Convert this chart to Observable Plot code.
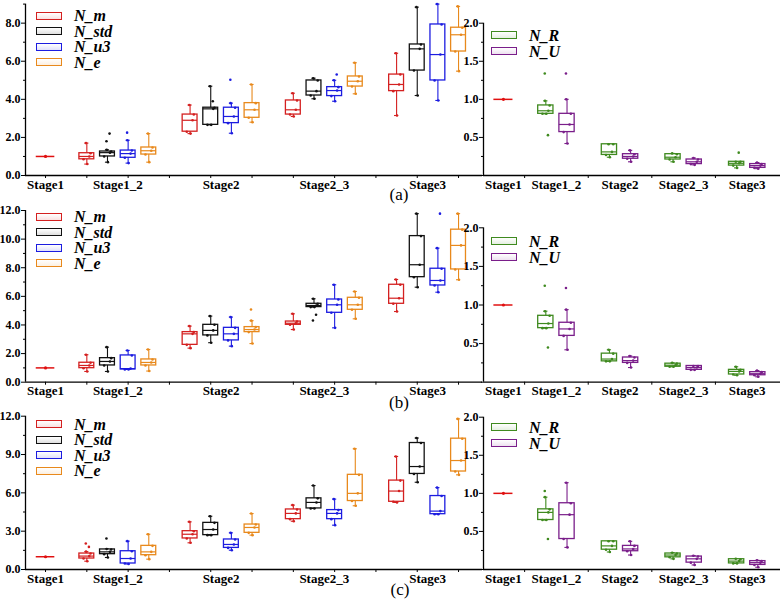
<!DOCTYPE html>
<html>
<head>
<meta charset="utf-8">
<script src="https://cdn.jsdelivr.net/npm/d3@7"></script>
<script src="https://cdn.jsdelivr.net/npm/@observablehq/plot@0.6"></script>
<style>
  body { margin: 0; background: #fff; }
  #wrap { position: relative; width: 780px; height: 601px; overflow: hidden; background: #fff; }
  #wrap svg { position: absolute; }
  #wrap svg, #wrap svg text { font-family: "Liberation Serif", "Times New Roman", serif !important; font-weight: bold; }
  .lg { position: absolute; font-family: "Liberation Serif", serif; font-style: italic; font-weight: bold; font-size: 16px; line-height: 15px; height: 15px; color: #000; white-space: nowrap; }
  .lb { position: absolute; width: 24px; height: 6px; background: #fff; }
  .pl { position: absolute; font-family: "Liberation Serif", serif; font-size: 17px; line-height: 17px; transform: translate(-50%, -50%); }
</style>
</head>
<body>
<div id="wrap"></div>
<script>
// ---------- categories ----------
const stages = ["Stage1", "Stage1_2", "Stage2", "Stage2_3", "Stage3"];
const leftSeries = ["N_m", "N_std", "N_u3", "N_e"];
const rightSeries = ["N_R", "N_U"];
const leftColors = ["#d42020", "#111111", "#1c1ce0", "#e8891c"];
const rightColors = ["#3f8a1f", "#7a1e8a"];
const stage1Color = "#e01010";
const stage1Value = 1.0;

// ---------- box statistics [min, q1, median, q3, max] for Stage1_2, Stage2, Stage2_3, Stage3 ----------
// panel (a)
const a_N_m   = [[0.60,0.85,1.00,1.17,1.70],[2.20,2.30,2.90,3.20,3.70],[3.10,3.20,3.45,3.94,4.32],[3.15,4.43,4.78,5.30,6.42]];
const a_N_std = [[0.70,1.00,1.20,1.26,1.35],[2.66,2.66,3.50,3.56,4.69],[4.03,4.20,4.43,4.99,5.11],[4.20,5.51,6.65,6.88,8.84]];
const a_N_u3  = [[0.65,0.93,1.15,1.31,1.85],[2.22,2.75,3.10,3.56,3.80],[3.90,4.17,4.46,4.64,5.00],[3.94,4.99,6.35,7.93,9.00]];
const a_N_e   = [[0.70,1.10,1.30,1.47,2.20],[2.80,3.03,3.45,3.80,4.78],[4.29,4.67,4.95,5.20,5.92],[5.48,6.51,7.39,7.76,8.88]];
const a_N_R   = [[0.81,0.81,0.85,0.92,0.98],[0.24,0.27,0.31,0.41,0.41],[0.18,0.21,0.24,0.28,0.29],[0.10,0.13,0.16,0.18,0.18]];
const a_N_U   = [[0.42,0.57,0.67,0.81,1.00],[0.18,0.22,0.25,0.28,0.33],[0.14,0.15,0.18,0.21,0.23],[0.09,0.10,0.13,0.15,0.17]];
const a_left_out  = [["N_std",1,1.80],["N_std",1,2.20],["N_u3",1,2.25],["N_std",2,3.90],["N_u3",2,5.03],["N_u3",3,5.30]];
const a_right_out = [["N_R",1,1.34],["N_R",1,0.53],["N_U",1,1.34],["N_R",4,0.30]];

// panel (b)
const b_N_m   = [[0.75,0.98,1.17,1.36,1.92],[2.38,2.61,3.38,3.50,3.92],[3.68,4.01,4.12,4.24,4.78],[4.94,5.48,5.87,6.81,7.18]];
const b_N_std = [[0.75,1.17,1.45,1.68,2.45],[2.76,3.27,3.62,4.01,4.62],[5.25,5.25,5.36,5.48,5.83],[6.64,7.34,8.21,10.21,11.78]];
const b_N_u3  = [[0.89,0.89,0.95,1.87,2.22],[2.52,2.92,3.38,3.80,4.55],[3.80,4.85,5.41,5.78,6.81],[6.29,6.76,7.11,7.93,9.37]];
const b_N_e   = [[0.78,1.17,1.38,1.59,2.29],[2.70,3.50,3.68,3.85,4.30],[4.43,5.06,5.41,5.90,6.34],[7.16,7.88,9.56,10.66,11.78]];
const b_N_R   = [[0.70,0.70,0.76,0.86,0.92],[0.27,0.27,0.30,0.37,0.42],[0.20,0.20,0.22,0.24,0.25],[0.09,0.10,0.14,0.16,0.20]];
const b_N_U   = [[0.42,0.60,0.69,0.77,0.94],[0.19,0.25,0.28,0.32,0.34],[0.16,0.16,0.19,0.21,0.21],[0.07,0.09,0.11,0.13,0.15]];
const b_left_out  = [["N_e",2,5.08],["N_std",3,4.71],["N_std",3,4.31],["N_u3",4,11.78]];
const b_right_out = [["N_R",1,1.25],["N_R",1,0.45],["N_U",1,1.22]];

// panel (c)
const c_N_m   = [[0.65,0.86,1.05,1.25,1.40],[2.09,2.43,2.76,3.00,3.73],[3.78,3.94,4.39,4.70,5.04],[5.25,5.30,6.14,6.96,8.85]];
const c_N_std = [[0.94,1.20,1.38,1.57,1.60],[2.69,2.69,3.13,3.65,4.17],[4.78,4.78,5.25,5.57,6.57],[6.83,7.48,8.06,9.90,10.29]];
const c_N_u3  = [[0.43,0.47,0.86,1.43,2.22],[1.51,1.69,1.96,2.35,2.87],[3.47,3.94,4.39,4.65,5.51],[4.33,4.33,4.57,5.75,6.41]];
const c_N_e   = [[0.81,1.12,1.38,1.85,2.76],[2.69,2.87,3.29,3.52,4.38],[4.99,5.36,5.96,7.41,9.45],[7.41,7.67,8.53,10.24,11.79]];
const c_N_R   = [[0.65,0.65,0.75,0.79,0.95],[0.23,0.26,0.31,0.37,0.37],[0.14,0.16,0.19,0.21,0.22],[0.08,0.08,0.11,0.135,0.14]];
const c_N_U   = [[0.29,0.40,0.72,0.87,1.14],[0.19,0.24,0.27,0.31,0.37],[0.06,0.09,0.14,0.17,0.18],[0.03,0.06,0.09,0.11,0.12]];
const c_left_out  = [["N_m",1,2.04],["N_m",1,1.77],["N_std",1,2.43]];
const c_right_out = [["N_R",1,1.03],["N_R",1,0.40]];

// ---------- axis ticks ----------
const a_leftTicks = [0, 2, 4, 6, 8];      const a_leftMinor = [1, 3, 5, 7, 9];
const b_leftTicks = [0, 2, 4, 6, 8, 10, 12]; const b_leftMinor = [1, 3, 5, 7, 9, 11];
const c_leftTicks = [0, 3, 6, 9, 12];     const c_leftMinor = [1.5, 4.5, 7.5, 10.5];
const rightTicks = [0.5, 1.0, 1.5, 2.0];  const rightMinor = [0, 0.25, 0.75, 1.25, 1.75];

const wrap = document.getElementById("wrap");
const FONT = "'Liberation Serif', 'Times New Roman', serif";

function makePanel(cfg) {
  const names = cfg.series, colors = cfg.colors, n = names.length;
  const colorOf = new Map(names.map((s, i) => [s, colors[i]]));
  const posOf = (j, k) => 2 + k * (n + 1) + j;   // k: 0..3 for Stage1_2..Stage3
  const rows = [];
  cfg.data.forEach((arr, j) => arr.forEach((st, k) => rows.push({
    series: names[j], color: colors[j], pos: posOf(j, k),
    min: st[0], q1: st[1], med: st[2], q3: st[3], max: st[4]
  })));
  const pts = [];
  const offs = [0.02, -0.16, 0.12, 0.18, -0.04];
  rows.forEach(r => [r.min, r.q1, r.med, r.q3, r.max].forEach((v, i) =>
    pts.push({x: r.pos + offs[i], y: v, color: r.color})));
  cfg.outliers.forEach(([s, k, v], i) => {
    const j = names.indexOf(s);
    pts.push({x: posOf(j, k - 1) + (i % 2 ? 0.1 : -0.05), y: v, color: colorOf.get(s)});
  });
  const labelPos = cfg.labelPos;
  const labelMap = new Map(labelPos.map((p, i) => [p, stages[i]]));
  const hw = 0.36;
  const chart = Plot.plot({
    width: cfg.width, height: cfg.height,
    marginLeft: cfg.ml, marginRight: cfg.mr, marginTop: cfg.mt, marginBottom: cfg.mb,
    x: {type: "linear", domain: cfg.xDomain, label: null},
    y: {type: "linear", domain: cfg.yDomain, label: null},
    color: {type: "identity"},
    style: {background: "transparent", overflow: "visible", fontFamily: FONT, fontWeight: "bold", fontSize: "12px", color: "#000"},
    marks: [
      Plot.axisY({ticks: cfg.yTicks, tickFormat: d3.format(".1f"), tickSize: 4, tickPadding: 1, label: null, fontSize: 12, fontFamily: FONT, fontWeight: "bold"}),
      Plot.axisY({ticks: cfg.yMinor, tickFormat: () => "", tickSize: 2, label: null}),
      Plot.axisX({ticks: cfg.xTicks, tickFormat: () => "", tickSize: 3, label: null}),
      Plot.axisX({ticks: labelPos, tickFormat: d => labelMap.get(d), tickSize: 0, tickPadding: 4, label: null, fontSize: 13, fontFamily: FONT, fontWeight: "bold"}),
      Plot.ruleX([cfg.xDomain[0]], {y1: cfg.yDomain[0], y2: cfg.yDomain[1], stroke: "#000", strokeWidth: 1.3}),
      Plot.ruleY([0], {x1: cfg.xDomain[0], x2: cfg.xDomain[1], stroke: "#000", strokeWidth: 1.3}),
      // Stage1 reference value
      Plot.ruleY([stage1Value], {x1: -0.45, x2: 0.45, stroke: stage1Color, strokeWidth: 1.5}),
      Plot.dot([stage1Value], {x: 0, y: d => d, r: 1.6, fill: stage1Color}),
      // whiskers
      Plot.ruleX(rows, {x: "pos", y1: "min", y2: "max", stroke: "color", strokeWidth: 1.1}),
      Plot.ruleY(rows, {y: "min", x1: d => d.pos - 0.1, x2: d => d.pos + 0.1, stroke: "color", strokeWidth: 1.1}),
      Plot.ruleY(rows, {y: "max", x1: d => d.pos - 0.1, x2: d => d.pos + 0.1, stroke: "color", strokeWidth: 1.1}),
      // boxes
      Plot.rect(rows, {x1: d => d.pos - hw, x2: d => d.pos + hw, y1: "q1", y2: "q3", fill: "#fff", stroke: "color", strokeWidth: 1.3}),
      Plot.ruleY(rows, {y: "med", x1: d => d.pos - hw, x2: d => d.pos + hw, stroke: "color", strokeWidth: 1.2}),
      // data points
      Plot.dot(pts, {x: "x", y: "y", r: 1.3, fill: "color"})
    ]
  });
  chart.style.left = cfg.left + "px";
  chart.style.top = cfg.top + "px";
  wrap.appendChild(chart);
}

function legend(items, colors, x, rows, textX) {
  items.forEach((name, i) => {
    const b = document.createElement("div");
    b.className = "lb";
    b.style.left = x + "px";
    b.style.top = (rows[i] - 4) + "px";
    b.style.border = "1.5px solid " + colors[i];
    b.style.background = "linear-gradient(#fff, " + colors[i] + "22)";
    wrap.appendChild(b);
    const t = document.createElement("div");
    t.className = "lg";
    t.style.left = textX + "px";
    t.style.top = (rows[i] - 7.5) + "px";
    t.textContent = name;
    wrap.appendChild(t);
  });
}

function panelLabel(text, x, y) {
  const d = document.createElement("div");
  d.className = "pl";
  d.style.left = x + "px";
  d.style.top = y + "px";
  d.textContent = text;
  wrap.appendChild(d);
}

const leftX = {series: leftSeries, colors: leftColors, width: 484, left: 0, ml: 25, mr: 2,
  xDomain: [-0.97, 21.16], xTicks: [0,2,4,6,8,10,12,14,16,18,20], labelPos: [0, 3.5, 8.5, 13.5, 18.5]};
const rightX = {series: rightSeries, colors: rightColors, width: 340, left: 440, ml: 43, mr: 0,
  xDomain: [-0.94, 13.07], xTicks: [1, 4, 7, 10], labelPos: [0, 2.5, 5.5, 8.5, 11.5]};

// (a)
makePanel({...leftX, data: [a_N_m, a_N_std, a_N_u3, a_N_e], outliers: a_left_out,
  top: 0, height: 195, mt: 3.6, mb: 20, yDomain: [0, 9], yTicks: a_leftTicks, yMinor: a_leftMinor});
makePanel({...rightX, data: [a_N_R, a_N_U], outliers: a_right_out,
  top: 0, height: 195, mt: 22.7, mb: 20, yDomain: [0, 2], yTicks: rightTicks, yMinor: rightMinor});
// (b)
makePanel({...leftX, data: [b_N_m, b_N_std, b_N_u3, b_N_e], outliers: b_left_out,
  top: 196, height: 204, mt: 14, mb: 18.3, yDomain: [0, 12], yTicks: b_leftTicks, yMinor: b_leftMinor});
makePanel({...rightX, data: [b_N_R, b_N_U], outliers: b_right_out,
  top: 196, height: 204, mt: 31.3, mb: 18.3, yDomain: [0, 2], yTicks: rightTicks, yMinor: rightMinor});
// (c)
makePanel({...leftX, data: [c_N_m, c_N_std, c_N_u3, c_N_e], outliers: c_left_out,
  top: 400, height: 201, mt: 15.7, mb: 32, yDomain: [0, 12], yTicks: c_leftTicks, yMinor: c_leftMinor});
makePanel({...rightX, data: [c_N_R, c_N_U], outliers: c_right_out,
  top: 400, height: 201, mt: 16.7, mb: 32, yDomain: [0, 2], yTicks: rightTicks, yMinor: rightMinor});

// legends
legend(leftSeries, leftColors, 36, [15.5, 31, 46.5, 62], 74);
legend(rightSeries, rightColors, 491, [35, 51], 529);
legend(leftSeries, leftColors, 36, [216.7, 232.2, 247.7, 263.2], 74);
legend(rightSeries, rightColors, 491, [241, 257], 529);
legend(leftSeries, leftColors, 36, [424, 439.5, 455, 470.5], 74);
legend(rightSeries, rightColors, 491, [427, 443], 529);

// panel labels
panelLabel("(a)", 399, 194);
panelLabel("(b)", 399, 402);
panelLabel("(c)", 400, 589);
</script>
</body>
</html>
